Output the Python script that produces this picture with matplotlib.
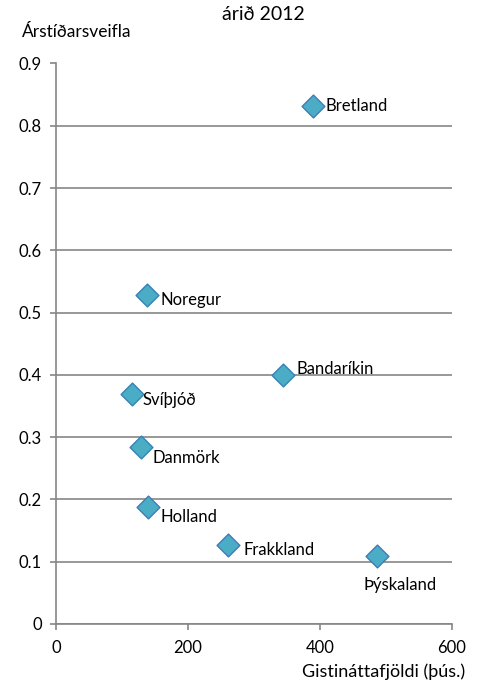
import matplotlib.pyplot as plt

# data
countries = ["Bretland", "Noregur", "Bandaríkin", "Svíþjóð", "Danmörk",
             "Holland", "Frakkland", "Þýskaland"]
nights = [390, 138, 344, 115, 129, 139, 260, 486]          # þús. gistinætur
seasonality = [0.831, 0.528, 0.400, 0.370, 0.285, 0.188, 0.127, 0.109]

# label offsets (points) relative to each marker
offsets = {
    "Bretland": (8.6, 0),
    "Noregur": (9.6, -3.6),
    "Bandaríkin": (9.6, 3.9),
    "Svíþjóð": (7.7, -4.8),
    "Danmörk": (8.4, -8.4),
    "Holland": (9.4, -7.2),
    "Frakkland": (11.1, -3.6),
    "Þýskaland": (-9.9, -20.9),
}

plt.rcParams["font.family"] = ["Lato", "DejaVu Sans"]
grid_col = "#868686"

fig = plt.figure(figsize=(4.8, 6.83), dpi=100)
ax = fig.add_axes([56 / 480, 1 - 624 / 683, 396 / 480, 560.5 / 683])

ax.scatter(nights, seasonality, marker="D", s=135, color="#4BACC6",
           edgecolor="#3A7FB5", linewidth=1.0, zorder=3)

for name, x, y in zip(countries, nights, seasonality):
    dx, dy = offsets[name]
    ax.annotate(name, (x, y), xytext=(dx, dy), textcoords="offset points",
                ha="left", va="center", fontsize=12, color="black")

ax.set_xlim(0, 600)
ax.set_ylim(0, 0.9)
ax.set_xticks([0, 200, 400, 600])
ax.set_yticks([i / 10 for i in range(10)])
ax.set_yticklabels(["0"] + [f"{i / 10:.1f}" for i in range(1, 10)])
ax.tick_params(axis="both", labelsize=12, color=grid_col, length=4.3, width=1.2)
ax.tick_params(axis="x", pad=7)
ax.tick_params(axis="y", pad=6)

ax.grid(axis="y", color=grid_col, linewidth=1.2)
ax.set_axisbelow(True)
for side in ("top", "right"):
    ax.spines[side].set_visible(False)
for side in ("left", "bottom"):
    ax.spines[side].set_color(grid_col)
    ax.spines[side].set_linewidth(1.2)

fig.text(263 / 480, 1 - 15 / 683, "árið 2012", ha="center", va="center",
         fontsize=14)
fig.text(22 / 480, 1 - 32 / 683, "Árstíðarsveifla", ha="left", va="center",
         fontsize=12.5)
fig.text(465 / 480, 1 - 672 / 683, "Gistináttafjöldi (þús.)", ha="right",
         va="center", fontsize=13)

fig.savefig("out.png", dpi=100)
